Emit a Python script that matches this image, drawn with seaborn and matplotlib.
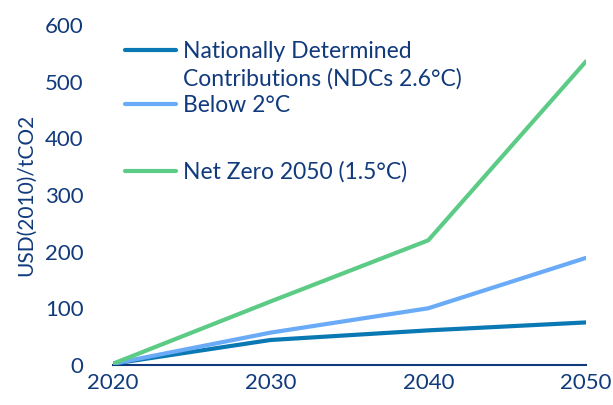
import pandas as pd
import matplotlib.pyplot as plt
import seaborn as sns
from matplotlib.lines import Line2D

years = [2020, 2030, 2040, 2050]
ndc = [2, 44, 61, 75]
below_2c = [2, 57, 100, 189]
net_zero = [2, 112, 220, 536]

series_names = ["Nationally Determined\nContributions (NDCs 2.6°C)", "Below 2°C", "Net Zero 2050 (1.5°C)"]
colors = ["#0a78b2", "#6aabf8", "#5ccb85"]
navy = "#113a7c"

df = pd.DataFrame({"Year": years * 3,
                   "Value": ndc + below_2c + net_zero,
                   "Scenario": [series_names[0]] * 4 + [series_names[1]] * 4 + [series_names[2]] * 4})

sns.set_style("white")
plt.rcParams["font.family"] = ["Lato", "DejaVu Sans"]

fig = plt.figure(figsize=(6.13, 4.05), dpi=100)
ax = fig.add_axes([0.184, 0.099, 0.772, 0.839])
sns.lineplot(data=df, x="Year", y="Value", hue="Scenario", palette=colors,
             linewidth=3, legend=False, ax=ax)
for line in ax.lines:
    line.set_solid_capstyle("round")

ax.set_xlim(2020, 2050)
ax.set_ylim(0, 600)
ax.set_xticks(years)
ax.set_yticks(range(0, 601, 100))
ax.tick_params(axis="both", length=0, labelsize=16, labelcolor=navy)
ax.tick_params(axis="x", pad=6)
ax.tick_params(axis="y", pad=21)
ax.set_xlabel("")
ax.set_ylabel("USD(2010)/tCO2", fontsize=15, color=navy, labelpad=6)
for s in ["top", "right", "left"]:
    ax.spines[s].set_visible(False)
ax.spines["bottom"].set_color(navy)
ax.spines["bottom"].set_linewidth(1.5)
ax.spines["bottom"].set_zorder(0)

# legend: first two entries, second line of NDC label has no handle
h1 = [Line2D([], [], color=colors[0], lw=3),
      Line2D([], [], color="none", lw=3),
      Line2D([], [], color=colors[1], lw=3)]
l1 = ["Nationally Determined", "Contributions (NDCs 2.6°C)", "Below 2°C"]
leg1 = ax.legend(h1, l1, loc="upper left", bbox_to_anchor=(0.006, 0.98), frameon=False,
                 fontsize=16.5, labelcolor=navy, handlelength=2.25, handletextpad=0.27,
                 labelspacing=0.25, borderaxespad=0)
ax.add_artist(leg1)
h2 = [Line2D([], [], color=colors[2], lw=3)]
ax.legend(h2, ["Net Zero 2050 (1.5°C)"], loc="upper left", bbox_to_anchor=(0.006, 0.627),
          frameon=False, fontsize=16.5, labelcolor=navy, handlelength=2.25,
          handletextpad=0.27, borderaxespad=0)

plt.savefig("out.png", dpi=100)
